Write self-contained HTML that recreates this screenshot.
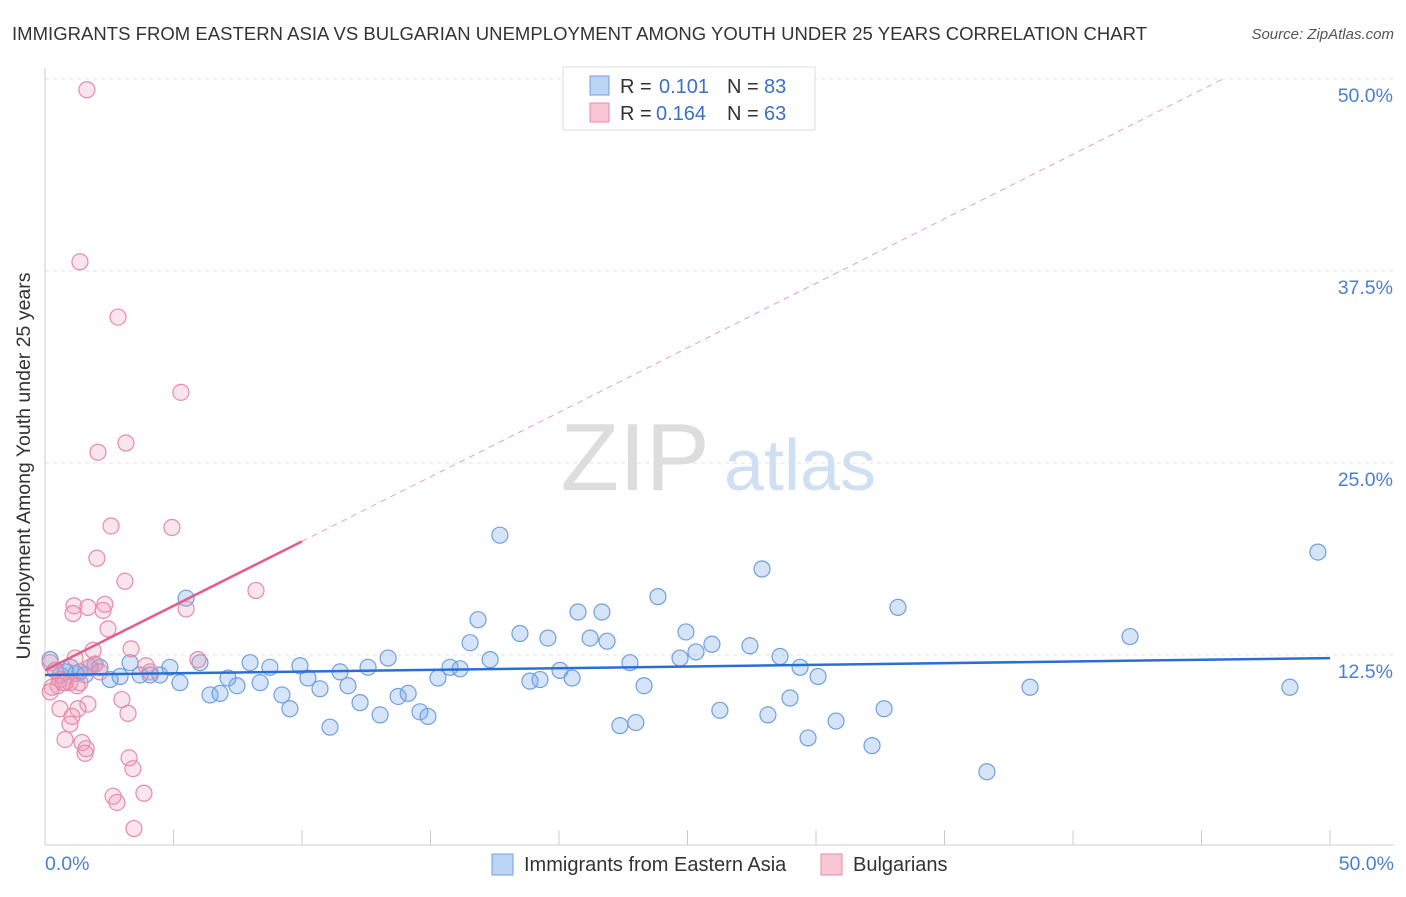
<!DOCTYPE html>
<html><head><meta charset="utf-8"><style>
body{margin:0;background:#fff;font-family:"Liberation Sans",sans-serif}
svg text{font-family:"Liberation Sans",sans-serif}
</style></head><body>
<svg width="1406" height="892" viewBox="0 0 1406 892">
<text x="12" y="40" font-size="18.5" fill="#333" textLength="1135">IMMIGRANTS FROM EASTERN ASIA VS BULGARIAN UNEMPLOYMENT AMONG YOUTH UNDER 25 YEARS CORRELATION CHART</text>
<text x="1394" y="39" font-size="15" fill="#555" font-style="italic" text-anchor="end">Source: ZipAtlas.com</text>
<g id="grid"></g>
<g>
<text x="635" y="490" font-size="96" font-family="Liberation Serif" fill="#ddd" text-anchor="middle">ZIP</text>
<text x="800" y="490" font-size="72" fill="#cfe0f3" text-anchor="middle">atlas</text></g>
<line x1="45" y1="68" x2="45" y2="845" stroke="#ccc"/>
<line x1="45" y1="845" x2="1394" y2="845" stroke="#ccc"/>
<g id="xticks"></g>
<g id="pts"></g>
<g id="lines"></g>
<text x="20" y="456" font-size="19.5" fill="#333" text-anchor="middle" transform="rotate(-90 30 456)">Unemployment Among Youth under 25 years</text>
<text x="45" y="870" font-size="19.5" fill="#4a7fd0">0.0%</text>
<text x="1394" y="870" font-size="19.5" fill="#4a7fd0" text-anchor="end">50.0%</text>
<g>
<rect x="563" y="67" width="252" height="63" fill="#fff" stroke="#ddd"/>
<rect x="590" y="76" width="19" height="19" fill="#bcd4f5" stroke="#6fa0dc"/>
<rect x="590" y="103" width="19" height="19" fill="#f9c6d6" stroke="#e88aa8"/>
<text x="620" y="93" font-size="20" fill="#333">R =</text><text x="659" y="93" font-size="20" fill="#3a70c8">0.101</text>
<text x="727" y="93" font-size="20" fill="#333">N =</text><text x="764" y="93" font-size="20" fill="#3a70c8">83</text>
<text x="620" y="120" font-size="20" fill="#333">R =</text><text x="656" y="120" font-size="20" fill="#3a70c8">0.164</text>
<text x="727" y="120" font-size="20" fill="#333">N =</text><text x="764" y="120" font-size="20" fill="#3a70c8">63</text>
</g>
<g>
<rect x="492" y="854" width="21" height="21" fill="#bcd4f5" stroke="#6fa0dc"/>
<text x="524" y="871" font-size="20" fill="#333">Immigrants from Eastern Asia</text>
<rect x="821" y="854" width="21" height="21" fill="#f9c6d6" stroke="#e88aa8"/>
<text x="853" y="871" font-size="20" fill="#333">Bulgarians</text>
</g>
</svg>
<script>
const yTicks=[12.5,25,37.5,50];
const yTickLabels=["12.5%","25.0%","37.5%","50.0%"];
const xTicks=[0,5,10,15,20,25,30,35,40,45,50];
const blueX=[0.2,0.4,0.6,0.8,1,1.2,1.36,1.56,1.75,1.95,2.14,2.53,2.92,3.31,3.7,4.09,4.47,4.86,5.25,5.49,6.03,6.42,6.81,7.12,7.47,7.98,8.37,8.75,9.22,9.53,9.92,10.23,10.7,11.09,11.48,11.79,12.26,12.57,13.04,13.35,13.74,14.13,14.59,14.9,15.29,15.76,16.15,16.54,16.85,17.32,17.7,18.48,18.87,19.26,19.57,20.04,20.51,20.74,21.21,21.67,21.87,22.37,22.76,22.99,23.31,23.85,24.71,24.94,25.33,25.95,26.26,27.43,27.9,28.13,28.6,28.99,29.38,29.69,30.08,30.78,32.18,32.65,33.19,36.65,38.33,42.22,48.44,49.53];
const blueY=[12.2,11.5,11.2,11.4,11.7,11.3,11.4,11.2,11.7,11.9,11.7,10.9,11.1,12.0,11.2,11.2,11.2,11.7,10.7,16.2,12.0,9.9,10.0,11.0,10.5,12.0,10.7,11.7,9.9,9.0,11.8,11.0,10.3,7.8,11.4,10.5,9.4,11.7,8.6,12.3,9.8,10.0,8.8,8.5,11.0,11.7,11.6,13.3,14.8,12.2,20.3,13.9,10.8,10.9,13.6,11.5,11.0,15.3,13.6,15.3,13.4,7.9,12.0,8.1,10.5,16.3,12.3,14.0,12.7,13.2,8.9,13.1,18.1,8.6,12.4,9.7,11.7,7.1,11.1,8.2,6.6,9.0,15.6,4.9,10.4,13.7,10.4,19.2];
const pinkX=[1.63,1.36,2.84,5.29,3.15,2.06,2.57,4.94,2.02,3.11,8.21,1.13,1.67,2.33,1.09,2.26,5.49,2.45,1.87,3.35,1.17,1.95,0.2,0.39,0.58,0.78,0.97,0.27,0.51,0.7,1.36,1.75,3.93,5.95,0.2,0.58,1.67,1.28,3.23,2.99,1.05,0.97,0.78,1.44,1.6,1.56,3.27,3.42,2.65,3.85,2.8,3.46,1.25,2.14,4.09];
const pinkY=[49.3,38.1,34.5,29.6,26.3,25.7,20.9,20.8,18.8,17.3,16.7,15.7,15.6,15.8,15.2,15.4,15.5,14.2,12.8,12.9,12.3,11.9,12.0,11.5,10.9,10.7,10.7,10.4,10.5,10.7,10.7,11.7,11.8,12.2,10.1,9.0,9.3,9.0,8.7,9.6,8.5,8.0,7.0,6.8,6.4,6.1,5.8,5.1,3.3,3.5,2.9,1.2,10.5,11.4,11.4];
const blueFit=[11.2,12.3];
const pinkFit=[11.5,19.9];
const pinkFitEnd=10;
const X=v=>45+v*25.7, Y=v=>847-v*15.36;
const NS="http://www.w3.org/2000/svg";
function mk(t,a,p){const e=document.createElementNS(NS,t);for(const k in a)e.setAttribute(k,a[k]);p.appendChild(e);return e;}
const grid=document.getElementById('grid');
yTicks.forEach((t,i)=>{
 const l=mk('line',{x1:45,x2:1394,y1:Y(t),y2:Y(t),stroke:'#e2e2e2','stroke-dasharray':'4,4'},grid);
 
 
 const tx=mk('text',{x:1393,y:Y(t)+23,'font-size':19.5,fill:'#4a7fd0','text-anchor':'end'},grid);
 tx.textContent=yTickLabels[i];
 
 
});
const xt=document.getElementById('xticks');
xTicks.forEach(t=>{const l=mk('line',{x1:X(t),x2:X(t),y1:830,y2:845,stroke:'#ccc'},xt);
 
 });
const pts=document.getElementById('pts');
blueX.forEach((v,i)=>{const c=mk('circle',{cx:X(v),cy:Y(blueY[i]),r:8,fill:'rgba(120,165,235,0.3)',stroke:'#6fa0dc','stroke-width':1.2},pts);
 
 });
pinkX.forEach((v,i)=>{const c=mk('circle',{cx:X(v),cy:Y(pinkY[i]),r:8,fill:'rgba(240,150,180,0.25)',stroke:'#e88aa8','stroke-width':1.2},pts);
 
 });
const ln=document.getElementById('lines');
const slope=(pinkFit[1]-pinkFit[0])/pinkFitEnd;
const xEnd=(50-pinkFit[0])/slope;
const d=mk('line',{x1:X(pinkFitEnd),y1:Y(pinkFit[1]),x2:X(xEnd),y2:Y(50),stroke:'#e8a0b8','stroke-dasharray':'6,5','stroke-width':1},ln);


const p=mk('line',{x1:X(0),y1:Y(pinkFit[0]),x2:X(pinkFitEnd),y2:Y(pinkFit[1]),stroke:'#e0608a','stroke-width':2.5},ln);


const b=mk('line',{x1:X(0),y1:Y(blueFit[0]),x2:X(50),y2:Y(blueFit[1]),stroke:'#2a6fd6','stroke-width':2.5},ln);


</script>
</body></html>
